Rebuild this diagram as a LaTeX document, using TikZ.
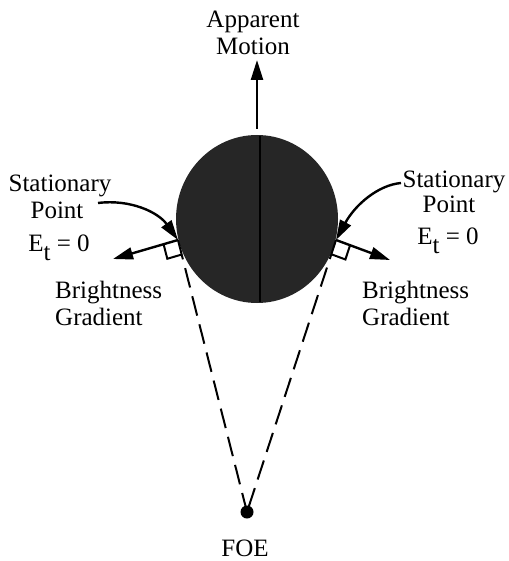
\documentclass[tikz,border=0pt]{standalone}
\usepackage{fontspec}
\setmainfont{Liberation Serif}
\usetikzlibrary{arrows.meta,calc}
\begin{document}
\begin{tikzpicture}[x=1pt,y=-1pt,
  lbl/.style={font=\fontsize{25}{27}\selectfont, inner sep=0pt, anchor=base},
  arr/.style={line width=2.4pt, -{Triangle[length=20pt,width=12pt]}},
  curv/.style={line width=2.4pt, -{Triangle[length=20pt,width=12pt]}},
  dashline/.style={line width=2pt, dash pattern=on 20pt off 9pt},
  rmark/.style={line width=2pt, line join=miter}
  ]
\useasboundingbox (0,0) rectangle (508,561);
% sphere
\coordinate (c) at (257,219);
\fill[black!85] (c) ellipse [x radius=81, y radius=84];
\coordinate (seamtop) at (260,136);
\coordinate (seambot) at (260,302);
\draw[line width=2pt] (seamtop) -- (seambot);
% key points
\coordinate (L) at (178,240);
\coordinate (R) at (336,240);
\coordinate (gl) at (113,259);
\coordinate (gr) at (390,260);
\coordinate (foe) at (247,512);
\coordinate (top) at (257,129);
\coordinate (motion) at (257,60);
% apparent motion
\draw[arr] (top) -- (motion);
\node[lbl] (am1) at (253,28) {Apparent};
\node[lbl] (am2) at (253,55) {Motion};
% gradients
\draw[arr] (L) -- (gl);
\draw[arr] (R) -- (gr);
% right-angle marks
\coordinate (La) at ($(L)!15pt!(gl)$);
\coordinate (Lb) at ($(L)!15pt!(foe)$);
\draw[rmark] (La) -- ($(La)+(Lb)-(L)$) -- (Lb);
\coordinate (Ra) at ($(R)!15pt!(gr)$);
\coordinate (Rb) at ($(R)!15pt!(foe)$);
\draw[rmark] (Ra) -- ($(Ra)+(Rb)-(R)$) -- (Rb);
% dashed tangents
\draw[dashline] (L) -- (foe);
\draw[dashline] (R) -- (foe);
\fill (foe) circle (6.5);
\node[lbl] (foelbl) at (245,556) {FOE};
% stationary point labels
\node[lbl] (sl1) at (60,192) {Stationary};
\node[lbl] (sl2) at (57,218) {Point};
\node[lbl] (sl3) at (59,251) {E\raisebox{-9pt}{t} = 0};
\node[lbl] (sr1) at (454,187) {Stationary};
\node[lbl] (sr2) at (449,212) {Point};
\node[lbl] (sr3) at (448,244) {E\raisebox{-9pt}{t} = 0};
\coordinate (slstart) at (98,203);
\coordinate (srstart) at (401,183);
\draw[curv] (slstart) .. controls (130,199) and (158,212) .. (L);
\draw[curv] (srstart) .. controls (378,185) and (355,205) .. (R);
% brightness gradient labels
\node[lbl, anchor=base west] (bl1) at (55,298) {Brightness};
\node[lbl, anchor=base west] (bl2) at (55,325) {Gradient};
\node[lbl, anchor=base west] (br1) at (362,298) {Brightness};
\node[lbl, anchor=base west] (br2) at (362,325) {Gradient};
\end{tikzpicture}
\end{document}
